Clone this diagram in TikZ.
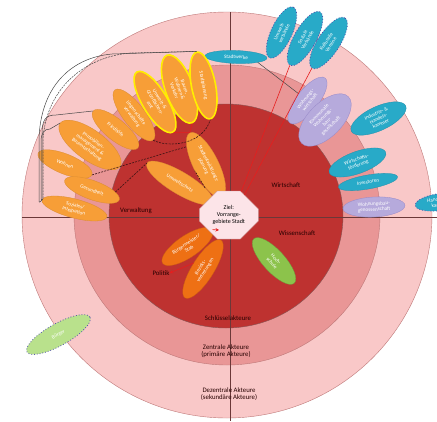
\documentclass[tikz,border=0pt]{standalone}
\usepackage{fontspec}
\setmainfont{Carlito}
\usetikzlibrary{shapes.geometric,shapes.misc,arrows.meta}
\definecolor{pinkA}{RGB}{249,200,200}
\definecolor{pinkB}{RGB}{233,150,150}
\definecolor{redC}{RGB}{190,50,48}
\definecolor{ringln}{RGB}{190,120,120}
\definecolor{orgc}{RGB}{247,158,55}
\definecolor{dorg}{RGB}{238,112,20}
\definecolor{yelc}{RGB}{255,238,0}
\definecolor{cyanc}{RGB}{40,170,200}
\definecolor{lavc}{RGB}{182,170,220}
\definecolor{lavd}{RGB}{150,135,200}
\definecolor{grnc}{RGB}{140,195,75}
\definecolor{grnl}{RGB}{185,225,140}
\definecolor{dotc}{RGB}{80,80,170}
\definecolor{octc}{RGB}{252,228,232}
\definecolor{gln}{RGB}{70,70,70}
\definecolor{dln}{RGB}{60,20,20}
\definecolor{rln}{RGB}{230,30,30}
\begin{document}
\begin{tikzpicture}[x=1pt,y=-1pt,
  ell/.style={ellipse, inner sep=0pt, text=white, align=center,
    font=\fontsize{5.2}{5.6}\selectfont, line width=0.3pt},
  org/.style={ell, fill=orgc, draw=orgc!88!black},
  yel/.style={ell, fill=orgc, draw=yelc, line width=1.6pt},
  porg/.style={ell, fill=dorg, draw=dorg!85!black},
  cya/.style={ell, fill=cyanc, draw=cyanc!85!black},
  cyd/.style={ell, fill=cyanc, draw=dotc, line width=0.8pt, dotted},
  lav/.style={ell, fill=lavc, draw=lavd},
  grn/.style={ell, fill=grnc, draw=grnc!80!black},
  bgr/.style={ell, fill=grnl, draw=dotc, line width=0.8pt, dotted},
  lbl/.style={font=\fontsize{6.8}{7.4}\selectfont, text=black!85!red, align=center, inner sep=0pt},
  qline/.style={draw=gln!80!red, line width=0.4pt},
  gline/.style={draw=gln, line width=0.5pt},
  gdash/.style={draw=gln, line width=0.5pt, dash pattern=on 2pt off 1pt},
  dline/.style={draw=dln, line width=0.6pt, dash pattern=on 2pt off 1.2pt},
  rline/.style={draw=rln, line width=0.6pt},
  rarrow/.style={draw=rln, line width=0.6pt, -{Stealth[length=3.5pt,width=3.5pt]}}
]
\useasboundingbox (0,0) rectangle (437,421);
\clip (0,0) rectangle (437,421);
\fill[white] (0,0) rectangle (437,421);
% rings
\path[fill=pinkA, draw=ringln, line width=0.4pt] (227,215) ellipse [x radius=205, y radius=203];
\path[fill=pinkB, draw=ringln, line width=0.4pt] (227,215) ellipse [x radius=153, y radius=150];
\path[fill=redC, draw=ringln!70!black, line width=0.4pt] (226,216) ellipse [x radius=117, y radius=112];
% quadrant lines
\draw[qline] (22,217) -- (437,217);
\draw[qline] (230,12) -- (230,421);

% right side / outer actors
\node[cya, minimum width=62, minimum height=13, rotate=-2] (sw) at (236,57) {Stadtwerke};
\node[cyd, minimum width=56, minimum height=21, rotate=64.8] (bt1) at (281.5,32.5) {Umwelt-\\verbände};
\node[cyd, minimum width=61, minimum height=22, rotate=60.5] (bt2) at (305,38.5) {Soziale\\Verbände};
\node[cyd, minimum width=60, minimum height=22, rotate=56.6] (bt3) at (328.5,43) {Kulturelle\\Vereine};
\node[lav, minimum width=57, minimum height=22, rotate=52] (lav1) at (307.5,100.5) {Wohnungs-\\wirtschaft};
\node[lav, minimum width=66, minimum height=34, rotate=45] (lav2) at (325,120) {Kommunale\\Wohnungs-\\bau-\\gesellschaft};
\node[cya, minimum width=60, minimum height=24, rotate=25] (bk) at (378.5,118.5) {Industrie- \&\\Handels-\\kammer};
\node[cya, minimum width=60, minimum height=22, rotate=20] (wf) at (357.5,162.5) {Wirtschafts-\\förderung};
\node[cya, minimum width=60, minimum height=14, rotate=10] (inv) at (368,182) {Investoren};
\node[lav, minimum width=62, minimum height=20, rotate=3] (lav3) at (374,207) {Wohnungsbau-\\genossenschaft};
\node[cyd, minimum width=50, minimum height=17, rotate=8] (br) at (440,202) {Handwerks-\\kammer};
\node[bgr, minimum width=72, minimum height=22, rotate=29] (bue) at (58.5,334.5) {Bürger};
\node[grn, minimum width=60, minimum height=22, rotate=-47.7] (hs) at (274,261) {Hoch-\\schule};

% Verwaltung
\node[org, minimum width=63, minimum height=22, rotate=-52.8] (lieg) at (134,115) {Liegenschafts-\\verwaltung};
\node[org, minimum width=58, minimum height=21, rotate=-39.4] (fried) at (115.5,129.5) {Friedhöfe};
\node[org, minimum width=74, minimum height=30, rotate=-36] (imm) at (90,145) {Immobilien-\\management \&\\Bauunterhaltung};
\node[org, minimum width=58, minimum height=20, rotate=-22] (wohn) at (65,164) {Wohnen};
\node[org, minimum width=58, minimum height=19, rotate=-20] (ges) at (92,190) {Gesundheit};
\node[org, minimum width=67, minimum height=19, rotate=-14.7] (soz) at (74.5,208.5) {Soziales/\\Integration};
\node[yel, minimum width=70, minimum height=25, rotate=-59] (y3) at (155,102) {Umwelt- \&\\Grünflächen-\\amt};
\node[yel, minimum width=72, minimum height=28, rotate=-69.8] (y2) at (179.5,89) {Bauen,\\Wohnen \&\\Verkehr};
\node[yel, minimum width=68, minimum height=24, rotate=-78.7] (sp) at (203.5,85.5) {Stadtplanung};
\node[org, minimum width=77, minimum height=22, rotate=-31] (umw) at (180,183) {Umweltschutz};
\node[org, minimum width=72, minimum height=25, rotate=-63.4] (ste) at (206,165) {Stadtentwicklungs-\\planung};
% Politik
\node[porg, minimum width=60, minimum height=22, rotate=34] (bgm) at (187.5,246.5) {Bürgermeister/\\Stab};
\node[porg, minimum width=68, minimum height=22, rotate=58] (bez) at (203,269) {Bezirks-\\vertretungen};

% centre
\node[chamfered rectangle, chamfered rectangle xsep=9pt, chamfered rectangle ysep=9pt,
  minimum width=59, minimum height=48, inner sep=0pt, fill=octc, draw=ringln!80,
  line width=0.4pt, align=center, font=\fontsize{6}{7}\selectfont] (oct) at (228.8,215)
  {Ziel:\\Vorrange-\\gebiete Stadt};

% labels
\node[lbl] (verw) at (136,211) {Verwaltung};
\node[lbl] (wirt) at (286,185) {Wirtschaft};
\node[lbl] (wiss) at (297,233) {Wissenschaft};
\node[lbl] (pol) at (161,273) {Politik};
\node[lbl] (schl) at (228,318) {Schlüsselakteure};
\node[lbl] (zent) at (226,351) {Zentrale Akteure\\(primäre Akteure)};
\node[lbl] (dez) at (229,394) {Dezentrale Akteure\\(sekundäre Akteure)};

% connectors: grey lines top left
\draw[gline] (sp.west) -- (112,54) .. controls (68,58) and (40,90) .. (39,140) -- (39,199) .. controls (39,203) .. (soz.west);
\draw[gdash] (sp.west) -- (130,53) .. controls (85,57) and (46,88) .. (43,140) -- (43,199) -- (soz.west);
\draw[gline] (fried.west) -- (56,115) .. controls (45,115) and (42,120) .. (42,135) -- (42,199) -- (soz.west);
\draw[gline] (imm.west) -- (50,129) .. controls (44,129) and (41,133) .. (41,142) -- (41,199) -- (soz.west);
\draw[gline] (sw.south east) -- (lav1);
% dashed dark links
\draw[dline] (wohn.east) -- (ste.200);
\draw[dline] (ges.15) -- (umw.west);
\draw[dline] (lieg.east) .. controls (168,148) and (203,145) .. (sp.east);
\draw[dline] (umw.20) -- (ste.south);
% red links
\draw[rline] (oct.62) -- (bt2.west);
\draw[rline] (oct.52) -- (bt3.west);
\draw[rline] (y3.east) -- (ste.west);
\draw[rline] (y2.east) -- (ste.west);
\draw[rarrow] (bez.north) -- (pol.east);
\coordinate (arrtip) at (219,230);
\draw[rarrow] (bgm.east) -- (arrtip);
\end{tikzpicture}
\end{document}
